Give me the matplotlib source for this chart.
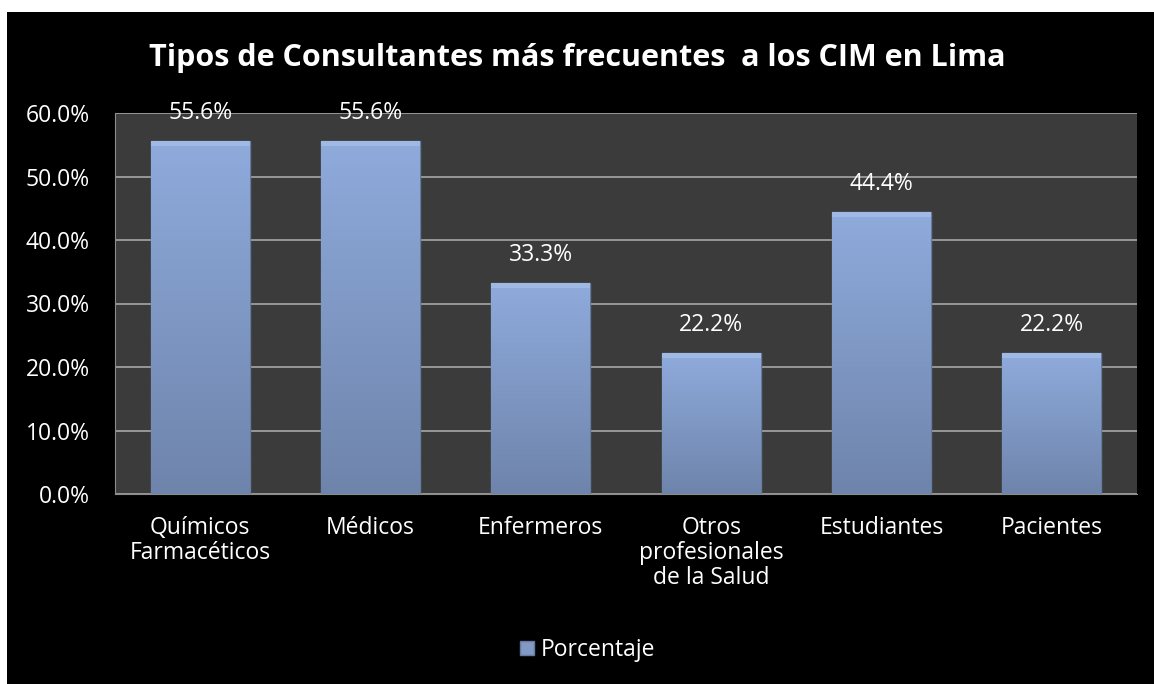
import numpy as np
import matplotlib
matplotlib.use("Agg")
import matplotlib.pyplot as plt
from matplotlib.patches import Rectangle
from matplotlib.colors import LinearSegmentedColormap

# data
categorias = ["Químicos\nFarmacéticos", "Médicos", "Enfermeros",
              "Otros\nprofesionales\nde la Salud", "Estudiantes", "Pacientes"]
porcentaje = [55.6, 55.6, 33.3, 22.2, 44.4, 22.2]
yticks = [0, 10, 20, 30, 40, 50, 60]
titulo = "Tipos de Consultantes más frecuentes  a los CIM en Lima"

plt.rcParams['font.family'] = ['Open Sans', 'DejaVu Sans']

fig = plt.figure(figsize=(11.54, 6.84), dpi=100, facecolor='white')
# black chart area with thin white margin top/left
fig.patches.append(Rectangle((7/1154, 0), 1 - 7/1154, (684 - 12)/684,
                             transform=fig.transFigure, facecolor='black',
                             edgecolor='none', zorder=-1))

ax = fig.add_axes([115/1154, 1 - 494/684, (1137 - 115)/1154, (494 - 113)/684])
ax.set_zorder(1)
ax.set_facecolor('#3b3b3b')

x = np.arange(len(categorias))
bars = ax.bar(x, porcentaje, width=0.58, color='#8199c4',
              edgecolor='#657a9f', linewidth=1.0, zorder=3)

# vertical gradient inside each bar
cmap = LinearSegmentedColormap.from_list('barra', ['#6e84ab', '#8fabdc'])
grad = np.linspace(0, 1, 256).reshape(-1, 1)
for b in bars:
    x0, y0 = b.get_x(), b.get_y()
    w, h = b.get_width(), b.get_height()
    im = ax.imshow(grad, cmap=cmap, origin='lower', aspect='auto',
                   extent=[x0, x0 + w, y0, y0 + h], zorder=3.5)
    im.set_clip_path(b)
    # bevel highlight on top
    ax.add_patch(Rectangle((x0, y0 + h - 0.8), w, 0.8, facecolor='#a9c0e8',
                           edgecolor='none', alpha=0.7, zorder=3.6))

for xi, v in zip(x, porcentaje):
    ax.annotate(f"{v:.1f}%", (xi, v), xytext=(0, 20), textcoords='offset points',
                ha='center', va='center', color='white', fontsize=16.5)

ax.set_xlim(-0.5, len(categorias) - 0.5)
ax.set_ylim(0, 60)
ax.set_yticks(yticks)
ax.set_yticklabels([f"{t:.1f}%" for t in yticks])
ax.set_xticks(x)
ax.set_xticklabels(categorias, linespacing=1.05)
ax.tick_params(axis='y', length=0, pad=18, colors='white', labelsize=16.5)
ax.tick_params(axis='x', length=0, pad=16, colors='white', labelsize=16.5)
for lab in ax.get_xticklabels():
    lab.set_va('top')

ax.grid(axis='y', color='#a6a6a6', linewidth=1.2, zorder=1)
ax.set_axisbelow(True)
for s in ['top', 'right']:
    ax.spines[s].set_visible(False)
ax.spines['left'].set_color('#8c8c8c')
ax.spines['bottom'].set_color('#8c8c8c')

fig.text(0.5, 1 - 58/684, titulo, ha='center', va='center', color='white',
         fontsize=22, fontweight='bold')

leg = fig.legend([Rectangle((0, 0), 1, 1, facecolor='#8199c4', edgecolor='#657a9f')],
                 ["Porcentaje"], loc='center', bbox_to_anchor=(588/1154, 1 - 650/684),
                 frameon=False, fontsize=16.5, labelcolor='white',
                 handlelength=0.6, handleheight=0.6, handletextpad=0.3)

fig.savefig('out.png', dpi=100, facecolor='white')
